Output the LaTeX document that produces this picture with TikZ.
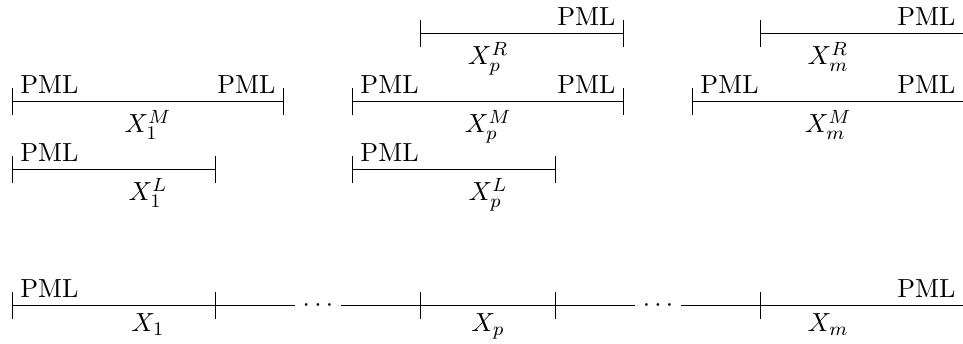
\documentclass[tikz,border=0pt]{standalone}
\usetikzlibrary{arrows.meta}
\tikzset{seg/.style={{Bar[width=4mm]}-{Bar[width=4mm]}},segl/.style={{Bar[width=4mm]}-},
 gap/.style={fill=white,inner sep=0.333em}}

\begin{document}
\begin{tikzpicture}[font=\fontsize{10.95}{13.6}\selectfont]
\useasboundingbox (-0.176,-4.551) rectangle (13.985,0.493);
\foreach \r/\y in {R/0,M/-1,L/-2,B/-4}
  \foreach \x in {0,...,14} \coordinate (\r\x) at (\x,\y);
% first block
\draw[seg] (M0)--(M4);
\node[above right] (m1l) at (M0) {PML};
\node[above left] (m1r) at (M4) {PML};
\node[below] (x1m) at (M2) {$X_1^M$};
\draw[seg] (L0)--(L3);
\node[above right] (l1l) at (L0) {PML};
\node[below] (x1l) at (L2) {$X_1^L$};
% p-th block
\draw[seg] (R6)--(R9);
\node[above left] (rpr) at (R9) {PML};
\node[below] (xpr) at (R7) {$X_p^R$};
\draw[seg] (M5)--(M9);
\node[above right] (mpl) at (M5) {PML};
\node[above left] (mpr) at (M9) {PML};
\node[below] (xpm) at (M7) {$X_p^M$};
\draw[seg] (L5)--(L8);
\node[above right] (lpl) at (L5) {PML};
\node[below] (xpl) at (L7) {$X_p^L$};
% last block
\draw[segl] (R11)--(R14);
\node[above left] (rmr) at (R14) {PML};
\node[below] (xmr) at (R12) {$X_m^R$};
\draw[segl] (M10)--(M14);
\node[above right] (mml) at (M10) {PML};
\node[above left] (mmr) at (M14) {PML};
\node[below] (xmm) at (M12) {$X_m^M$};
% whole domain
\draw[seg] (B0)--(B3);
\node[above right] (bl) at (B0) {PML};
\node[below] (x1) at (B2) {$X_1$};
\draw (B3)--node[gap] (dots1) {$\cdots$} (B6);
\draw[seg] (B6)--(B8);
\node[below] (xp) at (B7) {$X_p$};
\draw (B8)--node[gap] (dots2) {$\cdots$} (B11);
\draw[segl] (B11)--(B14);
\node[above left] (br) at (B14) {PML};
\node[below] (xm) at (B12) {$X_m$};
\end{tikzpicture}
\end{document}
